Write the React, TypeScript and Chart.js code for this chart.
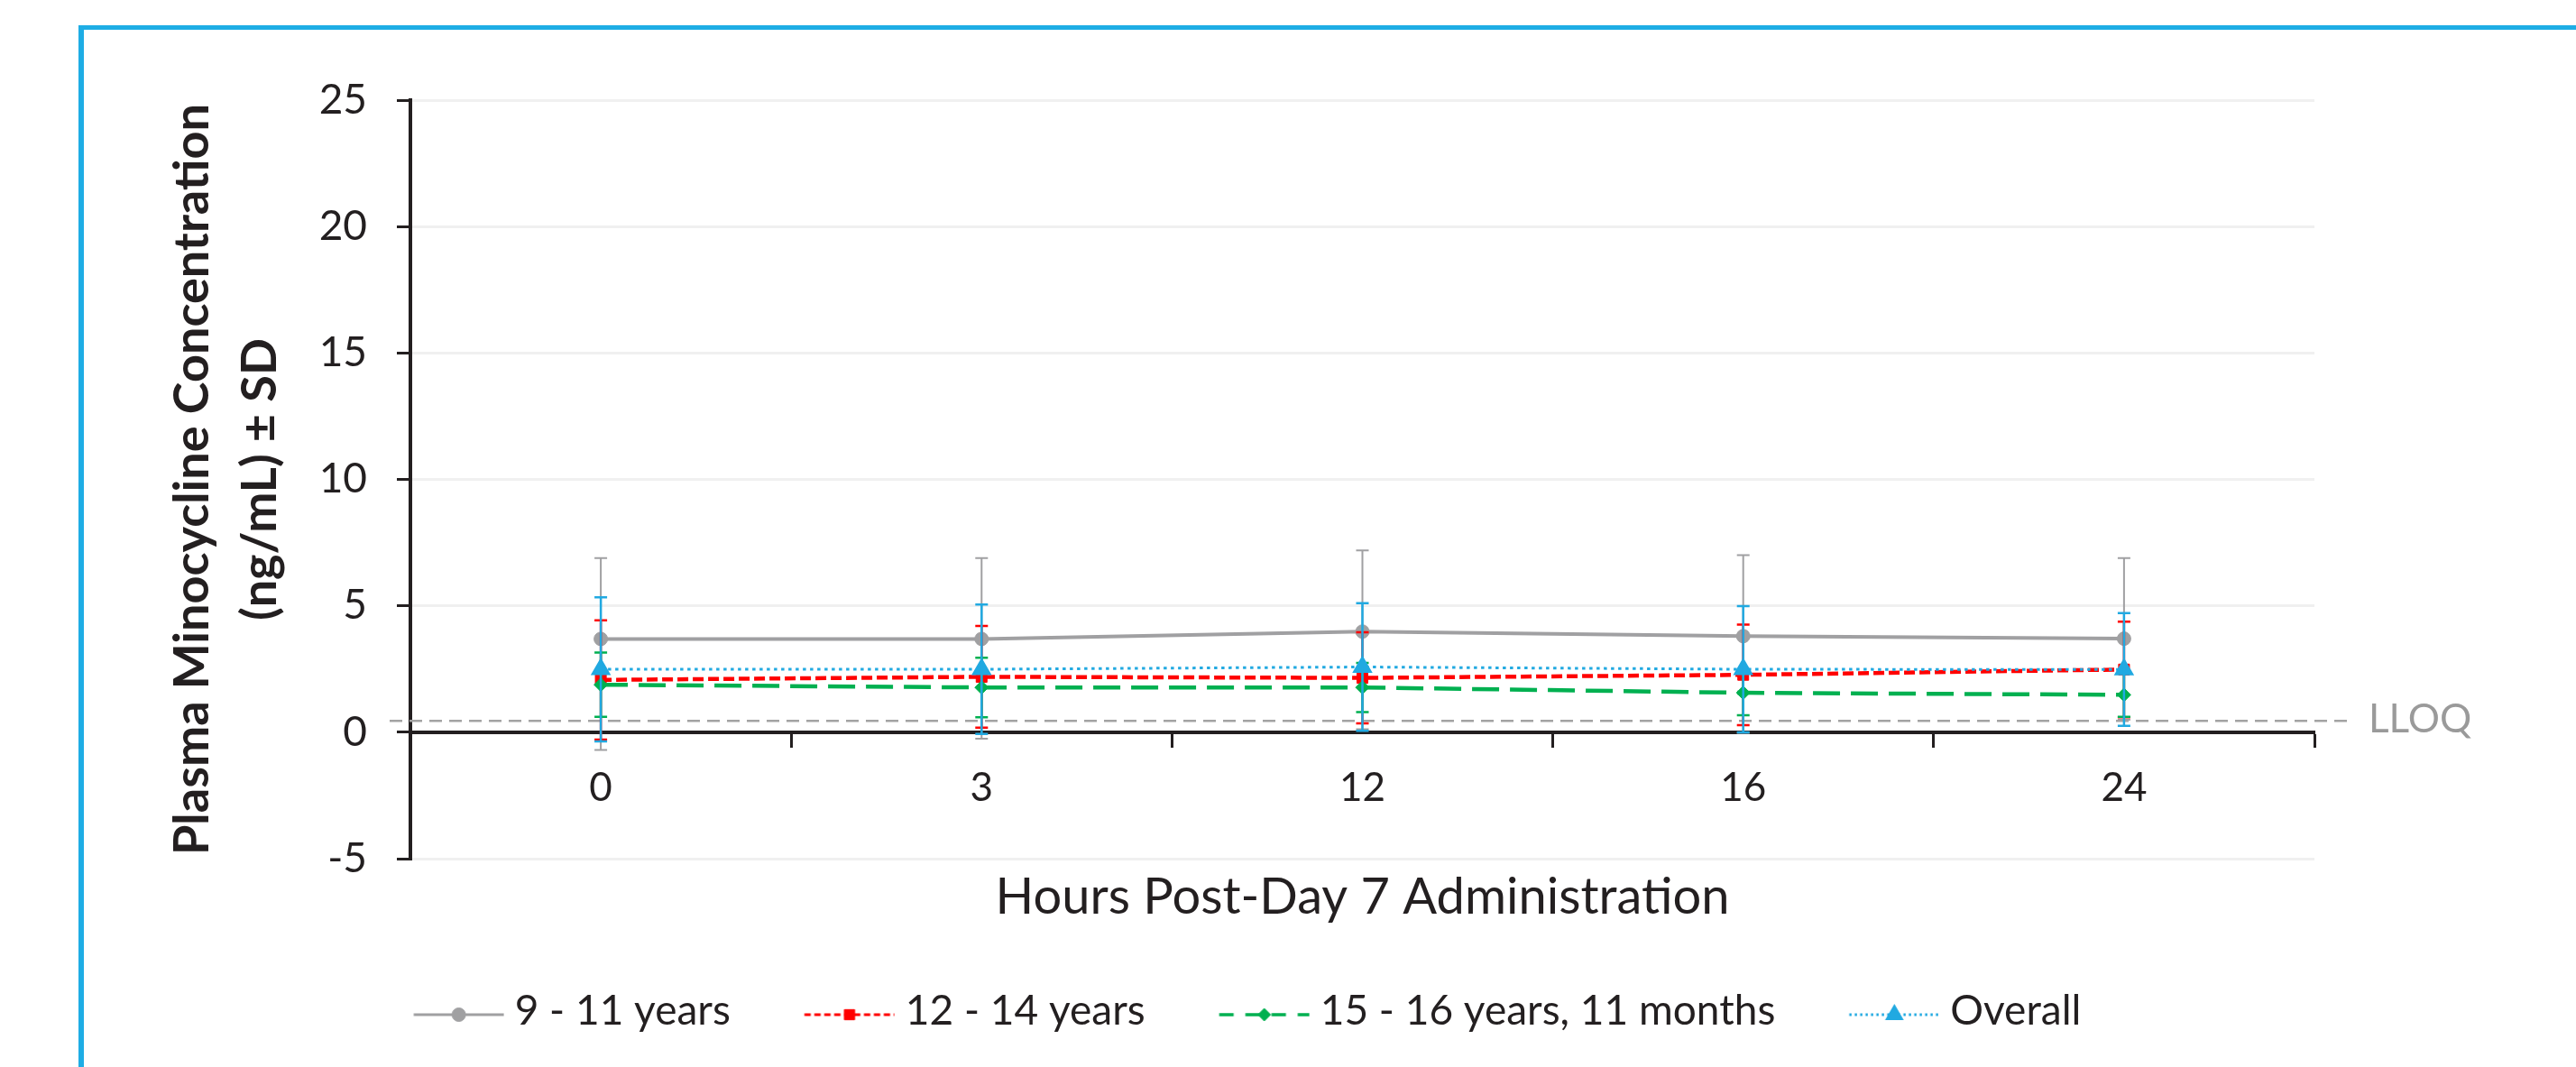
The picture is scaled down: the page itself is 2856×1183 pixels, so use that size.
import React, { useEffect, useRef } from 'react';
import { Chart, registerables } from 'chart.js';

Chart.register(...registerables);

// ---------- data ----------
const hours = ['0', '3', '12', '16', '24'];
const yMin = -5;
const yMax = 25;
const yStep = 5;
const lloqValue = 0.45;
const lloqLabel = 'LLOQ';

const seriesLabels = ['9 - 11 years', '12 - 14 years', '15 - 16 years, 11 months', 'Overall'];

const grayMean = [3.69, 3.69, 3.98, 3.8, 3.7];
const grayErrPlus = [3.2, 3.2, 3.21, 3.2, 3.19];
const grayErrMinus = [4.39, 3.95, 3.86, 3.82, 3.21];

const redMean = [2.07, 2.19, 2.15, 2.27, 2.48];
const redSd = [2.36, 2.01, 1.8, 1.99, 1.89];

const greenMean = [1.88, 1.77, 1.77, 1.56, 1.48];
const greenSd = [1.27, 1.18, 0.97, 0.89, 0.87];

const blueMean = [2.49, 2.49, 2.58, 2.49, 2.48];
const blueSd = [2.85, 2.56, 2.52, 2.5, 2.23];

const xTitle = 'Hours Post-Day 7 Administration';
const yTitle = ['Plasma Minocycline Concentration', '(ng/mL) \u00B1 SD'];

// ---------- styles ----------
const FONT = 'Lato';
const TEXT = '#231f20';
const GRAY = '#a0a0a2';
const RED = '#ff0000';
const GREEN = '#00b050';
const BLUE = '#21a9e1';
const FRAME = '#1eade5';

type SeriesStyle = {
  color: string;
  lineWidth: number;
  dash: number[];
  pointStyle: 'circle' | 'rect' | 'rectRot' | 'triangle';
  radius: number;
  errWidth: number;
  legendDash: number[];
  legendLineWidth: number;
  legendRadius: number;
  order: number;
};

const styles: SeriesStyle[] = [
  { color: GRAY, lineWidth: 4, dash: [], pointStyle: 'circle', radius: 7.5, errWidth: 2, legendDash: [], legendLineWidth: 3, legendRadius: 7.5, order: 3 },
  { color: RED, lineWidth: 4.5, dash: [12, 5], pointStyle: 'rect', radius: 8.5, errWidth: 2.5, legendDash: [7, 4], legendLineWidth: 3, legendRadius: 8, order: 2 },
  { color: GREEN, lineWidth: 4.5, dash: [30, 12], pointStyle: 'rectRot', radius: 7.5, errWidth: 2.5, legendDash: [16, 13], legendLineWidth: 3.5, legendRadius: 7, order: 1 },
  { color: BLUE, lineWidth: 3, dash: [3.5, 4.5], pointStyle: 'triangle', radius: 11, errWidth: 2.5, legendDash: [2.5, 3.5], legendLineWidth: 3, legendRadius: 10, order: 0 },
];

function drawMarker(g: CanvasRenderingContext2D, style: string, x: number, y: number, r: number) {
  g.beginPath();
  if (style === 'circle') {
    g.arc(x, y, r, 0, Math.PI * 2);
  } else if (style === 'rect') {
    const s = r * Math.SQRT1_2;
    g.rect(x - s, y - s, 2 * s, 2 * s);
  } else if (style === 'rectRot') {
    g.moveTo(x - r, y);
    g.lineTo(x, y - r);
    g.lineTo(x + r, y);
    g.lineTo(x, y + r);
    g.closePath();
  } else {
    for (let k = 0; k < 3; k++) {
      const a = (k * 2 * Math.PI) / 3;
      const px = x + Math.sin(a) * r;
      const py = y - Math.cos(a) * r;
      if (k === 0) g.moveTo(px, py);
      else g.lineTo(px, py);
    }
    g.closePath();
  }
  g.fill();
  g.stroke();
}

function makeSample(st: SeriesStyle): HTMLCanvasElement {
  const c = document.createElement('canvas');
  c.width = 174;
  c.height = 40;
  const g = c.getContext('2d') as CanvasRenderingContext2D;
  const y = 24;
  const x0 = 73.5;
  const x1 = 173.5;
  const xm = (x0 + x1) / 2;
  g.strokeStyle = st.color;
  g.lineWidth = st.legendLineWidth;
  g.setLineDash(st.legendDash);
  g.beginPath();
  g.moveTo(x0, y);
  g.lineTo(x1, y);
  g.stroke();
  g.setLineDash([]);
  g.fillStyle = st.color;
  g.strokeStyle = st.color;
  g.lineWidth = st.pointStyle === 'triangle' ? 2 : 1;
  drawMarker(g, st.pointStyle, xm, y, st.legendRadius);
  return c;
}

const decorPlugin = {
  id: 'decor',
  beforeDraw(chart: any) {
    const { ctx, width, height } = chart;
    ctx.save();
    ctx.fillStyle = '#ffffff';
    ctx.fillRect(0, 0, width, height);
    ctx.fillStyle = FRAME;
    ctx.fillRect(87, 28, width - 87, 5);
    ctx.fillRect(87, 28, 6, height - 28);
    ctx.restore();
  },
  beforeDatasetsDraw(chart: any) {
    const { ctx, chartArea } = chart;
    const ys = chart.scales.y;
    const y = ys.getPixelForValue(lloqValue);
    ctx.save();
    ctx.strokeStyle = '#a3a3a3';
    ctx.lineWidth = 2.5;
    ctx.setLineDash([14, 8]);
    ctx.beginPath();
    ctx.moveTo(chartArea.left - 23, y);
    ctx.lineTo(chartArea.right + 38, y);
    ctx.stroke();
    ctx.setLineDash([]);
    ctx.fillStyle = '#9a9a9a';
    ctx.font = `44px ${FONT}`;
    ctx.textAlign = 'left';
    ctx.textBaseline = 'alphabetic';
    ctx.fillText(lloqLabel, chartArea.right + 60, ys.getPixelForValue(0));
    ctx.restore();
  },
  afterDatasetDraw(chart: any, args: any) {
    const ds = chart.data.datasets[args.index];
    const meta = args.meta;
    const ys = chart.scales.y;
    const st = styles[args.index];
    const { ctx } = chart;
    ctx.save();
    ctx.strokeStyle = st.color;
    ctx.lineWidth = st.errWidth;
    ctx.setLineDash([]);
    meta.data.forEach((pt: any, i: number) => {
      const m = ds.data[i];
      const yt = ys.getPixelForValue(m + ds.errPlus[i]);
      const yb = ys.getPixelForValue(m - ds.errMinus[i]);
      const x = pt.x;
      ctx.beginPath();
      ctx.moveTo(x, yt);
      ctx.lineTo(x, yb);
      ctx.moveTo(x - 7, yt);
      ctx.lineTo(x + 7, yt);
      ctx.moveTo(x - 7, yb);
      ctx.lineTo(x + 7, yb);
      ctx.stroke();
    });
    ctx.restore();
  },
};

export default function App() {
  const ref = useRef<HTMLCanvasElement | null>(null);

  useEffect(() => {
    if (!ref.current) return;
    Chart.defaults.font.family = FONT;
    const samples = styles.map(makeSample);
    const means = [grayMean, redMean, greenMean, blueMean];
    const plus = [grayErrPlus, redSd, greenSd, blueSd];
    const minus = [grayErrMinus, redSd, greenSd, blueSd];

    const datasets: any[] = seriesLabels.map((label, i) => {
      const st = styles[i];
      return {
        label,
        data: means[i],
        errPlus: plus[i],
        errMinus: minus[i],
        borderColor: st.color,
        backgroundColor: st.color,
        borderWidth: st.lineWidth,
        borderDash: st.dash,
        tension: 0,
        pointStyle: st.pointStyle,
        pointRadius: st.radius,
        pointHoverRadius: st.radius,
        pointBackgroundColor: st.color,
        pointBorderColor: st.color,
        pointBorderWidth: st.pointStyle === 'triangle' ? 2 : 1,
        order: st.order,
      };
    });

    const chart = new Chart(ref.current, {
      type: 'line',
      data: { labels: hours, datasets },
      plugins: [decorPlugin],
      options: {
        animation: false,
        responsive: false,
        devicePixelRatio: 1,
        events: [],
        layout: { padding: { left: 138, right: 290, top: 111, bottom: 29 } },
        scales: {
          x: {
            type: 'category',
            offset: true,
            position: { y: 0 } as any,
            grid: {
              display: true,
              drawOnChartArea: false,
              drawTicks: true,
              tickLength: 15,
              offset: true,
              tickColor: TEXT,
              tickWidth: 3,
            },
            border: { display: true, color: TEXT, width: 4 },
            ticks: {
              font: { family: FONT, size: 44 },
              color: TEXT,
              padding: 21,
              maxRotation: 0,
              autoSkip: false,
            },
          },
          y: {
            min: yMin,
            max: yMax,
            ticks: {
              stepSize: yStep,
              font: { family: FONT, size: 46 },
              color: TEXT,
              padding: 33,
            },
            grid: {
              color: '#f0f0f0',
              lineWidth: 3,
              drawTicks: true,
              tickLength: 15,
              tickColor: TEXT,
              tickWidth: 3,
            },
            border: { display: true, color: TEXT, width: 4 },
            title: {
              display: true,
              text: yTitle,
              color: TEXT,
              font: { family: FONT, size: 54, weight: 'bold', lineHeight: 75 / 54 },
              padding: { top: 38.5, bottom: 0 },
            },
            afterFit: (scale: any) => {
              scale.width = 317;
            },
          },
        },
        plugins: {
          tooltip: { enabled: false },
          title: {
            display: true,
            position: 'bottom',
            fullSize: false,
            weight: 500,
            text: xTitle,
            color: TEXT,
            font: { family: FONT, size: 56, weight: 'normal', lineHeight: 1.2 },
            padding: { top: 9.4, bottom: 49.4 },
          },
          legend: {
            display: true,
            position: 'bottom',
            fullSize: true,
            labels: {
              usePointStyle: true,
              pointStyleWidth: 151,
              font: { family: FONT, size: 46 },
              color: TEXT,
              padding: 20,
              generateLabels: (c: any) =>
                c.data.datasets.map((ds: any, i: number) => ({
                  text: ds.label,
                  pointStyle: samples[i],
                  fillStyle: styles[i].color,
                  strokeStyle: styles[i].color,
                  lineWidth: 0,
                  hidden: false,
                  datasetIndex: i,
                  fontColor: TEXT,
                })),
            },
          },
        },
      } as any,
    });

    let alive = true;
    if ((document as any).fonts && (document as any).fonts.ready) {
      (document as any).fonts.ready.then(() => {
        if (alive) chart.update();
      });
    }
    return () => {
      alive = false;
      chart.destroy();
    };
  }, []);

  return (
    <div style={{ position: 'fixed', left: 0, top: 0, width: 2856, height: 1183, background: '#ffffff' }}>
      <canvas ref={ref} width={2856} height={1183} style={{ display: 'block', width: 2856, height: 1183 }} />
    </div>
  );
}
